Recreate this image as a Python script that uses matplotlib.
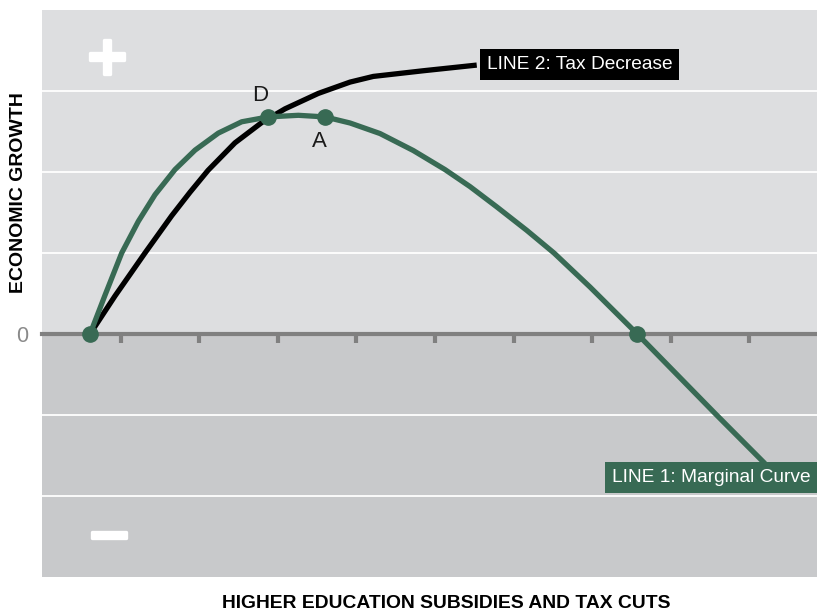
import matplotlib
matplotlib.use("Agg")
import matplotlib.pyplot as plt
import matplotlib.patheffects as pe

# ---- data ----
line1_x = [0.611, 0.802, 1.014, 1.225, 1.438, 1.692, 1.947, 2.243, 2.541, 2.879,
           3.261, 3.601, 3.919, 4.300, 4.724, 5.127, 5.445, 5.785, 6.167, 6.514,
           6.972, 7.574, 8.562, 9.198]
line1_y = [0.00, 0.48, 1.00, 1.39, 1.72, 2.03, 2.27, 2.48, 2.62, 2.68,
           2.70, 2.68, 2.605, 2.475, 2.265, 2.03, 1.82, 1.57, 1.28, 1.00,
           0.58, 0.00, -0.98, -1.60]
line1_pts_x = [0.611, 2.879, 3.601, 7.574]
line1_pts_y = [0.00, 2.68, 2.68, 0.00]

line2_x = [0.611, 0.929, 1.310, 1.650, 1.883, 2.112, 2.455, 2.795, 3.092, 3.515,
           3.919, 4.215, 4.851, 5.531]
line2_y = [0.00, 0.47, 1.00, 1.46, 1.75, 2.02, 2.36, 2.61, 2.78, 2.97,
           3.11, 3.18, 3.25, 3.32]

x_ticks = [1, 2, 3, 4, 5, 6, 7, 8, 9]
y_grid = [-2, -1, 0, 1, 2, 3]
y_ticklabels = ["", "", "0", "", "", ""]

line1_label = "LINE 1: Marginal Curve"
line2_label = "LINE 2: Tax Decrease"
xlabel = "HIGHER EDUCATION SUBSIDIES AND TAX CUTS"
ylabel = "ECONOMIC GROWTH"

GREEN = "#386a54"
UPPER = "#dddee0"
LOWER = "#c8c9cb"
FONT = "Liberation Sans"

W, H = 817, 613
fig = plt.figure(figsize=(W / 100, H / 100), dpi=100)
ax = fig.add_axes([42 / W, (H - 577) / H, 775 / W, 567 / H])
ax.set_xlim(0, 9.86)
ax.set_ylim(-3, 4)

ax.axhspan(0, 4, color=UPPER, zorder=0, lw=0)
ax.axhspan(-3, 0, color=LOWER, zorder=0, lw=0)

ax.set_yticks(y_grid)
ax.set_yticklabels(y_ticklabels, fontsize=15.5, color="#8a8a8a", family=FONT)
ax.tick_params(axis="y", length=0, pad=10)
ax.grid(axis="y", color="white", lw=1.3, zorder=0.5)
ax.set_axisbelow(True)

ax.set_xticks(x_ticks)
ax.set_xticklabels([])
ax.tick_params(axis="x", direction="out", length=6.5, width=3, color="#808080")
for s in ["top", "right", "left"]:
    ax.spines[s].set_visible(False)
ax.spines["bottom"].set_position(("data", 0))
ax.spines["bottom"].set_color("#808080")
ax.spines["bottom"].set_linewidth(3)
ax.spines["bottom"].set_zorder(1)

ax.plot(line2_x, line2_y, color="black", lw=3.8, zorder=3,
        solid_capstyle="butt", solid_joinstyle="round")
ax.plot(line1_x, line1_y, color=GREEN, lw=3.8, zorder=4,
        solid_capstyle="butt", solid_joinstyle="round")
ax.plot(line1_pts_x, line1_pts_y, "o", color=GREEN, ms=11, zorder=5)

ax.text(5.534 + 0.125, 3.33, line2_label, color="white", fontsize=13.8, family=FONT,
        ha="left", va="center", zorder=6,
        bbox=dict(boxstyle="square,pad=0.36", fc="black", ec="none"))
ax.text(7.125 + 0.125, -1.77, line1_label, color="white", fontsize=13.8, family=FONT,
        ha="left", va="center", zorder=6,
        bbox=dict(boxstyle="square,pad=0.36", fc=GREEN, ec="none"))

ax.text(2.774, 2.95, "D", fontsize=16, family=FONT, color="#1a1a1a", ha="center", va="center", zorder=6)
ax.text(3.524, 2.38, "A", fontsize=16, family=FONT, color="#1a1a1a", ha="center", va="center", zorder=6)

stroke = [pe.withStroke(linewidth=2.4, foreground="white")]
fig.text(107 / W, 1 - 53 / H, "+", fontsize=39, fontweight="bold", color="white",
         family="DejaVu Sans", ha="center", va="center_baseline", path_effects=stroke)
fig.text(109 / W, 1 - 531 / H, "\u2212", fontsize=38, fontweight="bold", color="white",
         family="DejaVu Sans", ha="center", va="center_baseline", path_effects=stroke)

fig.text(18.5 / W, 1 - 192.5 / H, ylabel, rotation=90, fontsize=14, fontweight="bold",
         family=FONT, ha="center", va="center")
fig.text(446 / W, 1 - 603.5 / H, xlabel, fontsize=13.9, fontweight="bold",
         family=FONT, ha="center", va="center")

fig.savefig("out.png", dpi=100)
